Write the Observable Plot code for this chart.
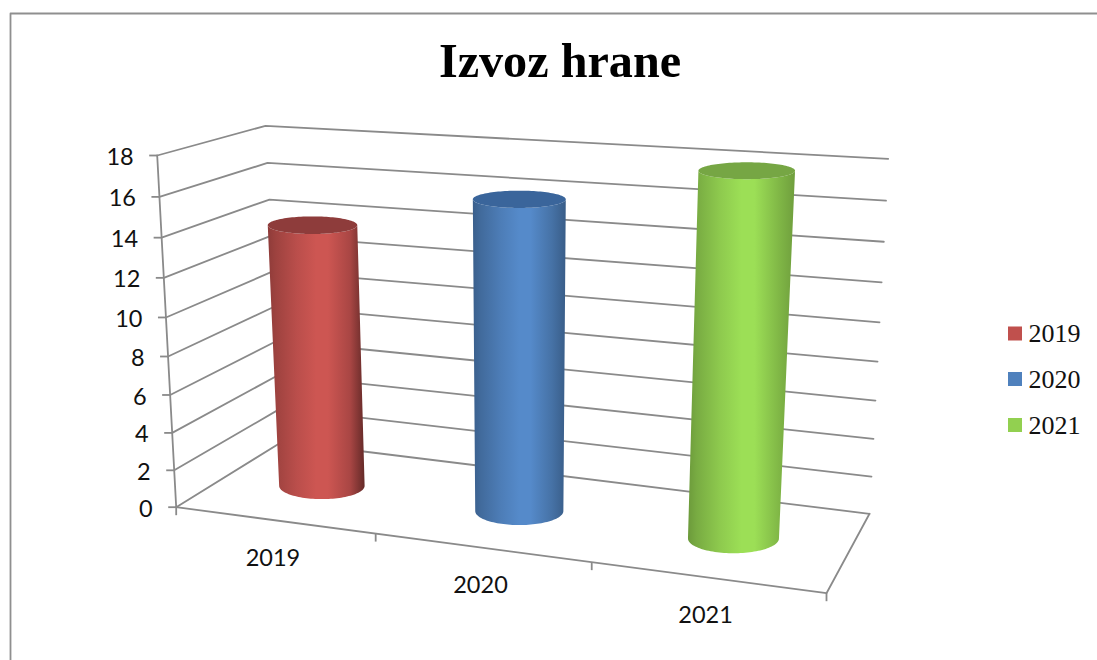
<!DOCTYPE html>
<html>
<head>
<meta charset="utf-8">
<style>html,body{margin:0;padding:0;background:#fff}svg{display:block}</style>
<script src="https://cdn.jsdelivr.net/npm/d3@7"></script>
<script src="https://cdn.jsdelivr.net/npm/@observablehq/plot@0.6"></script>
</head>
<body>
<div id="chart"></div>
<script>
const chartTitle = "Izvoz hrane";
const years = ["2019", "2020", "2021"];
const values = [14, 16, 18];
const colors = ["#c0504d", "#4f81bd", "#92d050"];
const capColors = ["#8e3c3b", "#3a659b", "#76a644"];
const rightEdge = [0.52, 0.72, 0.76];
const yTicks = [0, 2, 4, 6, 8, 10, 12, 14, 16, 18];

// Perspective box of the 3D chart: floor and ceiling corners on screen.
const vMax = 18;
const box = {
  FL: [[175.7, 506.7], [156.7, 155]],
  BL: [[282, 441], [265, 125.3]],
  BR: [[869, 513.3], [887.7, 158.3]],
  FR: [[826, 592.7], [848, 197]]
};
const warp = (w, k) => w / (w + k * (1 - w));
const lerp = (a, b, t) => a + (b - a) * t;
// t: along categories 0..1, v: value, d: depth 0 (front)..1 (back)
function project(t, v, d) {
  const u = warp(v / vMax, 1.067), s = warp(t, 1.13);
  const at = (c, i) => lerp(box[c][0][i], box[c][1][i], u);
  return [0, 1].map(i => lerp(lerp(at("FL", i), at("FR", i), s), lerp(at("BL", i), at("BR", i), s), d));
}
const radius = 0.0715;
function ellipse(t, v) {
  const [cx, cy] = project(t, v, 0.5);
  const r = radius * (1.075 - 0.15 * t);
  const rx = (project(t + r, v, 0.5)[0] - project(t - r, v, 0.5)[0]) / 2;
  const ry = (project(t, v, 0)[1] - project(t, v, 1)[1]) * 0.16 + 2.5;
  return {cx, cy, rx, ry};
}
function arc(e, sign) {
  return d3.range(0, 61).map(i => {
    const a = Math.PI * i / 60;
    return [e.cx - e.rx * Math.cos(a), e.cy + sign * e.ry * Math.sin(a)];
  });
}

const stops = [[0, .74], [.08, .82], [.3, .97], [.5, 1.07], [.62, 1.07], [.85, .88]];
const defs = () => {
  const d = d3.create("svg:defs");
  colors.forEach((c, i) => {
    const g = d.append("linearGradient").attr("id", "body" + i).attr("x1", 0).attr("x2", 1).attr("y1", 0).attr("y2", 0);
    const base = d3.rgb(c);
    [...stops, [1, rightEdge[i]]].forEach(([o, k]) => g.append("stop").attr("offset", o)
      .attr("stop-color", d3.rgb(base.r * k, base.g * k, base.b * k).formatHex()));
  });
  return d.node();
};

const gridRows = yTicks.flatMap(v => [
  {v, p: project(0, v, 0)}, {v, p: project(0, v, 1)}, {v, p: project(1, v, 1)}
]);
const floorRows = [project(0, 0, 0), project(1, 0, 0), project(1, 0, 1)];
const axisRows = [project(0, 0, 0), project(0, vMax, 0)];
const xTickRows = [0, 1 / 3, 2 / 3, 1].map(t => project(t, 0, 0));
const gridColor = "#8a8a8a";
const gridWidth = 1.8;
const tickFont = "Lato";
const serif = "Liberation Serif";

const cylinders = years.flatMap((y, i) => {
  const t = (i + 0.5) / years.length;
  const top = ellipse(t, values[i]), bot = ellipse(t, 0);
  const topFront = arc(top, 1), botFront = arc(bot, 1), topBack = arc(top, -1);
  return [
    Plot.area(d3.range(61), {
      x1: j => topFront[j][0], y1: j => topFront[j][1],
      x2: j => botFront[j][0], y2: j => botFront[j][1],
      fill: `url(#body${i})`, curve: "linear"
    }),
    Plot.area(d3.range(61), {
      x1: j => topBack[j][0], y1: j => topBack[j][1],
      x2: j => topFront[j][0], y2: j => topFront[j][1],
      fill: capColors[i], curve: "linear"
    })
  ];
});

const legendY = [333.5, 379, 425];
const plot = Plot.plot({
  width: 1097, height: 660,
  margin: 0,
  style: {background: "#fff"},
  x: {domain: [0, 1097], range: [0, 1097], axis: null},
  y: {domain: [0, 660], range: [0, 660], axis: null},
  marks: [
    defs,
    Plot.line([[1097, 13], [10, 13], [10, 660]], {stroke: "#8f8f8f", strokeWidth: 1.8}),
    Plot.line(gridRows, {x: r => r.p[0], y: r => r.p[1], z: "v", stroke: gridColor, strokeWidth: gridWidth}),
    Plot.line(floorRows, {stroke: gridColor, strokeWidth: gridWidth}),
    Plot.line(axisRows, {stroke: gridColor, strokeWidth: gridWidth}),
    Plot.link(yTicks, {
      x1: v => project(0, v, 0)[0] - 8, y1: v => project(0, v, 0)[1],
      x2: v => project(0, v, 0)[0], y2: v => project(0, v, 0)[1],
      stroke: gridColor, strokeWidth: gridWidth
    }),
    Plot.link(xTickRows, {
      x1: p => p[0], y1: p => p[1], x2: p => p[0], y2: p => p[1] + 8,
      stroke: gridColor, strokeWidth: gridWidth
    }),
    ...cylinders,
    Plot.text(yTicks, {
      x: v => project(0, v, 0)[0] - 23.5, y: v => project(0, v, 0)[1] + 2,
      text: v => String(v), textAnchor: "end", fontFamily: tickFont, fontSize: 23.5, fill: "#111"
    }),
    Plot.text(years, {
      x: (y, i) => project((i + 0.5) / years.length, 0, 0)[0] - 1,
      y: (y, i) => project((i + 0.5) / years.length, 0, 0)[1] + 38,
      text: y => y, fontFamily: tickFont, fontSize: 23.5, fill: "#111"
    }),
    Plot.rect(years, {
      x1: 1008, x2: 1022,
      y1: (y, i) => legendY[i] - 7, y2: (y, i) => legendY[i] + 7,
      fill: (y, i) => colors[i]
    }),
    Plot.text(years, {
      x: 1028, y: (y, i) => legendY[i], text: y => y, textAnchor: "start",
      fontFamily: serif, fontSize: 26, fill: "#111"
    }),
    Plot.text([chartTitle], {
      x: 559.5, y: 61, text: d => d, fontFamily: serif, fontWeight: "bold", fontSize: 48.2, fill: "#000"
    })
  ],
  color: {type: "identity"}
});
document.getElementById("chart").append(plot);
</script>
</body>
</html>
